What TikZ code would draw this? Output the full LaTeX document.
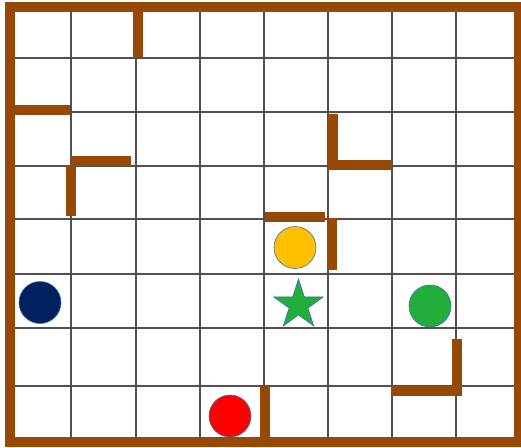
\documentclass[tikz,border=0pt]{standalone}
\usetikzlibrary{shapes.geometric}
\definecolor{wallc}{RGB}{151,72,6}
\definecolor{gridc}{RGB}{80,80,80}
\definecolor{navyc}{RGB}{0,32,96}
\definecolor{yelc}{RGB}{255,192,0}
\definecolor{grnc}{RGB}{33,174,58}
\definecolor{edgec}{RGB}{65,113,156}
\tikzset{
  gridline/.style={gridc, line width=1.6pt},
  wall/.style={wallc, line width=10pt, line join=miter},
  token/.style={circle, draw=edgec, line width=0.6pt, minimum size=42pt, inner sep=0pt},
}
\begin{document}
\begin{tikzpicture}[x=1pt,y=-1pt]
\useasboundingbox (0,0) rectangle (521,447);
\fill[white] (0,0) rectangle (521,447);
% grid
\foreach \gx in {71,136,200,264,328,392,456} \draw[gridline] (\gx,7) -- (\gx,442);
\foreach \gy in {58,112,166,219,274,328,386} \draw[gridline] (10,\gy) -- (519,\gy);
% border
\draw[wall] (10,7) rectangle (519,442);
% walls
\draw[wall] (138,7) -- (138,58);
\draw[wall] (10,110) -- (70,110);
\draw[wall] (71,161) -- (131,161);
\draw[wall] (71,165) -- (71,216);
\draw[wall] (333,114) -- (333,164.5) -- (392,164.5);
\draw[wall] (265,217) -- (325,217);
\draw[wall] (332,217.5) -- (332,270);
\draw[wall] (391,390.5) -- (457,390.5) -- (457,339);
\draw[wall] (265,386) -- (265,442);
% tokens
\node[token, fill=navyc] (navy) at (40,302.5) {};
\node[token, fill=red] (redc) at (230,416) {};
\node[token, fill=yelc] (yel) at (295,247.5) {};
\node[token, fill=grnc] (grn) at (430,306) {};
\node[star, star points=5, star point ratio=2.618, minimum size=52pt, inner sep=0pt, fill=grnc, draw=edgec, line width=0.6pt] (goal) at (298.5,305) {};
\end{tikzpicture}
\end{document}
